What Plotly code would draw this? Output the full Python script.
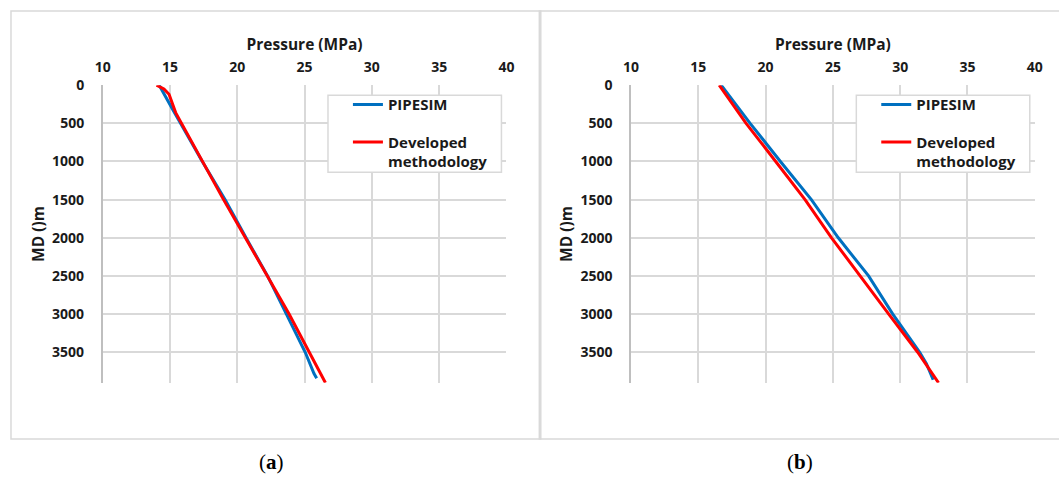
import plotly.graph_objects as go

# ---- data ----
md_a_pipesim = [0, 160, 310, 1000, 1500, 2000, 2500, 3000, 3500, 3780, 3840]
p_a_pipesim = [14.2, 14.68, 15.17, 17.4, 19.1, 20.65, 22.25, 23.65, 25.05, 25.7, 25.9]
md_a_dev = [0, 50, 120, 250, 360, 1500, 2000, 2500, 3000, 3500, 3900]
p_a_dev = [14.0, 14.55, 14.93, 15.17, 15.42, 18.98, 20.6, 22.2, 23.85, 25.35, 26.55]

md_b_pipesim = [0, 500, 1000, 1500, 2000, 2400, 2500, 3000, 3500, 3650, 3860]
p_b_pipesim = [16.7, 18.85, 21.1, 23.4, 25.4, 27.15, 27.65, 29.45, 31.45, 31.95, 32.45]
md_b_dev = [0, 500, 1000, 1500, 2000, 2500, 3000, 3500, 3900]
p_b_dev = [16.55, 18.55, 20.75, 22.93, 24.9, 27.0, 29.15, 31.3, 32.85]

x_ticks = [10, 15, 20, 25, 30, 35, 40]
y_ticks = [0, 500, 1000, 1500, 2000, 2500, 3000, 3500]
series_names = ["PIPESIM", "Developed<br>methodology"]
captions = ["(<b>a</b>)", "(<b>b</b>)"]

W, H = 1059, 477
BLUE = "#0070C0"
RED = "#FF0000"
GRID = "#D9D9D9"
TXT = "#1a1a1a"
FONT = "Open Sans"

# layout placement helpers (pixel positions measured on the target picture,
# corrected for the small offset/scale seen in the rendered capture)
SX, OX = 0.988, 6.0
SY, OY = 0.977, 11.0

def fx(p):
    return min(max((p - OX) / SX / W, 0.0), 1.0)

def fy(p):
    return min(max(1 - (p - OY) / SY / H, 0.0), 1.0)

fig = go.Figure()

fig.add_trace(go.Scatter(x=p_a_pipesim, y=md_a_pipesim, mode="lines", name=series_names[0],
                         line=dict(color=BLUE, width=3), xaxis="x", yaxis="y",
                         legend="legend", legendgroup="a1"))
fig.add_trace(go.Scatter(x=p_a_dev, y=md_a_dev, mode="lines", name=series_names[1],
                         line=dict(color=RED, width=3), xaxis="x", yaxis="y",
                         legend="legend", legendgroup="a2"))
fig.add_trace(go.Scatter(x=p_b_pipesim, y=md_b_pipesim, mode="lines", name=series_names[0],
                         line=dict(color=BLUE, width=3), xaxis="x2", yaxis="y2",
                         legend="legend2", legendgroup="b1"))
fig.add_trace(go.Scatter(x=p_b_dev, y=md_b_dev, mode="lines", name=series_names[1],
                         line=dict(color=RED, width=3), xaxis="x2", yaxis="y2",
                         legend="legend2", legendgroup="b2"))

tickfont = dict(family=FONT, size=14, color=TXT, weight="bold")
titlefont = dict(family=FONT, size=15.5, color=TXT, weight="bold")

def xaxis(dom, anchor):
    return dict(domain=dom, anchor=anchor, side="top", range=[10, 40],
                tickvals=x_ticks, showgrid=True, gridcolor=GRID, gridwidth=1.5,
                zeroline=False, showline=False, ticks="outside", ticklen=7,
                tickcolor="rgba(0,0,0,0)", tickfont=tickfont,
                title=dict(text="Pressure (MPa)", font=titlefont, standoff=2),
                fixedrange=True)

def yaxis(anchor):
    return dict(domain=[fy(383), fy(86)], anchor=anchor, range=[3900, 0],
                tickvals=y_ticks, showgrid=True, gridcolor=GRID, gridwidth=1.5,
                zeroline=False, showline=True, linecolor="#BFBFBF", linewidth=1.5,
                ticks="outside", ticklen=14, tickcolor="rgba(0,0,0,0)",
                tickfont=tickfont,
                title=dict(text="MD ()m", font=titlefont, standoff=4),
                fixedrange=True)

legend_common = dict(xanchor="left", yanchor="top", bgcolor="rgba(0,0,0,0)",
                     borderwidth=0, valign="top",
                     font=dict(family=FONT, size=15, color=TXT, weight="bold"),
                     tracegroupgap=15, itemwidth=30)

fig.update_layout(
    width=W, height=H,
    margin=dict(l=0, r=0, t=0, b=0),
    paper_bgcolor="white", plot_bgcolor="white",
    xaxis=xaxis([fx(101), fx(506)], "y"),
    yaxis=yaxis("x"),
    xaxis2=xaxis([fx(631), fx(1036)], "y2"),
    yaxis2=yaxis("x2"),
    legend=dict(x=fx(347), y=fy(89), **legend_common),
    legend2=dict(x=fx(877), y=fy(89), **legend_common),
    showlegend=True,
)

# panel frames
for x0, x1 in [(9, 530), (539, 1075)]:
    fig.add_shape(type="rect", xref="paper", yref="paper",
                  x0=fx(x0), x1=fx(x1) + 0.01, y0=fy(439), y1=fy(12),
                  line=dict(color=GRID, width=1.5), layer="below")

# legend boxes
for x0 in (327, 857):
    fig.add_shape(type="rect", xref="paper", yref="paper",
                  x0=fx(x0), x1=fx(x0 + 174), y0=fy(173), y1=fy(96),
                  line=dict(color=GRID, width=1.5), fillcolor="white", layer="above")

# captions
for cx, txt in [(270, captions[0]), (800, captions[1])]:
    fig.add_annotation(x=fx(cx), y=fy(462), xref="paper", yref="paper",
                       text=txt, showarrow=False,
                       font=dict(family="Liberation Serif", size=21, color="black"),
                       xanchor="center", yanchor="middle")

fig.write_html(
    "out.html",
    config={"displayModeBar": False},
    post_script="document.body.style.margin='0';document.body.style.overflow='hidden';",
)
